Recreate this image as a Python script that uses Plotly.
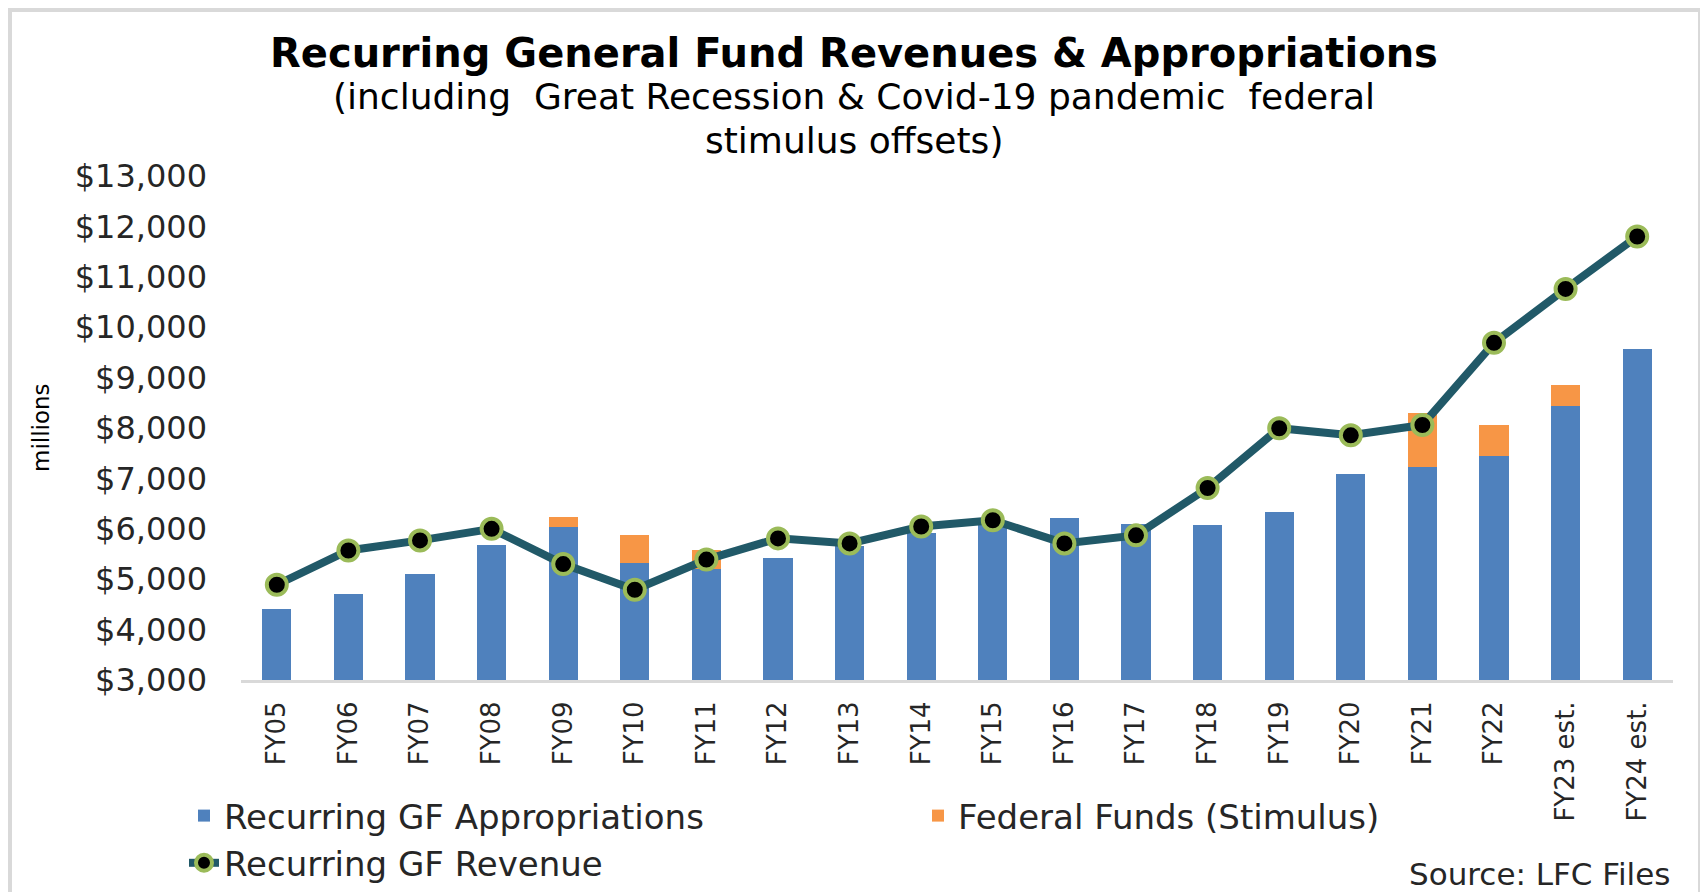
import plotly.graph_objects as go

# ---------------- data ----------------
categories = ["FY05", "FY06", "FY07", "FY08", "FY09", "FY10", "FY11", "FY12", "FY13", "FY14",
              "FY15", "FY16", "FY17", "FY18", "FY19", "FY20", "FY21", "FY22", "FY23 est.", "FY24 est."]
appropriations = [4400, 4700, 5100, 5670, 6040, 5330, 5200, 5430, 5650, 5920,
                  6100, 6210, 6100, 6070, 6340, 7080, 7220, 7450, 8430, 9570]
federal_stimulus = [0, 0, 0, 0, 200, 540, 370, 0, 0, 0,
                    0, 0, 0, 0, 0, 0, 1070, 610, 430, 0]
revenue = [4890, 5570, 5770, 6000, 5300, 4790, 5390, 5810, 5710, 6045,
           6170, 5710, 5870, 6810, 7995, 7855, 8060, 9690, 10760, 11800]

title_line1 = "Recurring General Fund Revenues & Appropriations"
title_line2 = "(including\u00a0 Great Recession & Covid-19 pandemic\u00a0 federal"
title_line3 = "stimulus offsets)"
y_title = "millions"
source_text = "Source: LFC Files"

# ---------------- layout geometry ----------------
# the page body has an 8px margin, so the figure is placed at (8, 8)
OFF = 8
W, H = 1700, 884
ML, MR, MT, MB = 233, 35, 168, 212
PW, PH = W - ML - MR, H - MT - MB


def px2x(px):  # page pixel -> paper x
    return (px - OFF - ML) / PW


def py2y(py):  # page pixel -> paper y
    return (H - MB - (py - OFF)) / PH


FONT = "DejaVu Sans"
TXT = "#262626"

fig = go.Figure()
fig.add_trace(go.Bar(
    x=categories, y=appropriations, name="Recurring GF Appropriations",
    marker=dict(color="#4F81BD", line=dict(width=0)),
))
fig.add_trace(go.Bar(
    x=categories, y=federal_stimulus, name="Federal Funds (Stimulus)",
    marker=dict(color="#F79646", line=dict(width=0)),
))
fig.add_trace(go.Scatter(
    x=categories, y=revenue, name="Recurring GF Revenue", mode="lines+markers",
    line=dict(color="#215968", width=8),
    marker=dict(color="black", size=20, line=dict(color="#9BBB59", width=4)),
))

fig.update_layout(
    width=W, height=H,
    margin=dict(l=ML, r=MR, t=MT, b=MB, autoexpand=False),
    paper_bgcolor="white", plot_bgcolor="white",
    barmode="stack", bargap=0.59,
    font=dict(family=FONT, color=TXT),
    showlegend=True,
    legend=dict(
        orientation="h", x=px2x(184), y=py2y(787), xanchor="left", yanchor="top",
        traceorder="normal",
        font=dict(family=FONT, size=34, color=TXT),
        entrywidth=689, entrywidthmode="pixels",
        bgcolor="rgba(0,0,0,0)",
    ),
    xaxis=dict(
        range=[-0.5, len(categories) - 0.5],
        showline=True, linecolor="#D9D9D9", linewidth=3, showgrid=False, zeroline=False,
        ticks="", tickangle=-90, tickfont=dict(family=FONT, size=26, color=TXT),
        ticklabelstandoff=8, automargin=False,
    ),
    yaxis=dict(
        range=[3000, 13000], dtick=1000, tickprefix="$", tickformat=",d",
        showgrid=False, zeroline=False, showline=False, ticks="",
        tickfont=dict(family=FONT, size=32, color=TXT), ticklabelstandoff=33,
        automargin=False,
    ),
)

annotations = [
    dict(text="<b>" + title_line1 + "</b>", x=px2x(854), y=py2y(53),
         font=dict(family=FONT, size=40, color="black")),
    dict(text=title_line2, x=px2x(854), y=py2y(97),
         font=dict(family=FONT, size=36, color="black")),
    dict(text=title_line3, x=px2x(854), y=py2y(140),
         font=dict(family=FONT, size=36, color="black")),
    dict(text=y_title, x=px2x(41), y=py2y(428), textangle=-90,
         font=dict(family=FONT, size=23, color="black")),
    dict(text=source_text, x=px2x(1672), y=py2y(874), xanchor="right",
         font=dict(family=FONT, size=31, color=TXT)),
]
for a in annotations:
    a.setdefault("xanchor", "center")
    a.update(xref="paper", yref="paper", yanchor="middle", showarrow=False)
fig.update_layout(annotations=annotations)

fig.add_shape(type="rect", xref="paper", yref="paper",
              x0=px2x(10), x1=px2x(1700), y0=py2y(905), y1=py2y(10),
              line=dict(color="#D9D9D9", width=4), fillcolor="rgba(0,0,0,0)", layer="below")

fig.write_html("out.html")
